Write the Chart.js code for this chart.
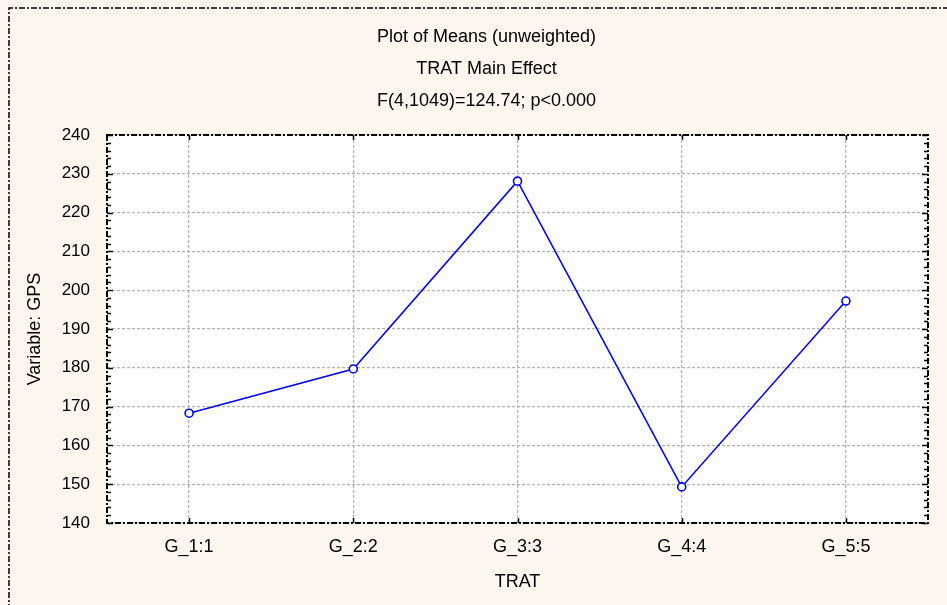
<!DOCTYPE html>
<html>
<head>
<meta charset="utf-8">
<script src="https://cdn.jsdelivr.net/npm/chart.js@4/dist/chart.umd.min.js"></script>
<style>
  html, body { margin: 0; padding: 0; background: #fdf6ef; }
  #chart { display: block; }
</style>
</head>
<body>
<canvas id="chart" width="947" height="605"></canvas>
<script>
const titleLines = ['Plot of Means (unweighted)', 'TRAT Main Effect', 'F(4,1049)=124.74; p<0.000'];
const categories = ['G_1:1', 'G_2:2', 'G_3:3', 'G_4:4', 'G_5:5'];
const means = [168.3, 179.7, 228.1, 149.3, 197.2];
const yTicks = [140, 150, 160, 170, 180, 190, 200, 210, 220, 230, 240];

const FONT = 'Liberation Sans, Arial, sans-serif';

// frame, headings and the little inward tick marks
const decorations = {
    id: 'decorations',
    beforeDraw(chart) {
        const ctx = chart.ctx;
        const a = chart.chartArea;
        ctx.save();
        ctx.fillStyle = '#fdf6ef';
        ctx.fillRect(0, 0, chart.width, chart.height);
        ctx.fillStyle = '#ffffff';
        ctx.fillRect(a.left, a.top, a.right - a.left, a.bottom - a.top);
        ctx.restore();
    },
    afterDraw(chart) {
        const ctx = chart.ctx;
        const a = chart.chartArea;
        const y = chart.scales.y;
        const x = chart.scales.x;
        ctx.save();

        // outer frame (cut off at right and bottom)
        ctx.strokeStyle = '#000';
        ctx.lineWidth = 1.5;
        ctx.setLineDash([6, 2, 2, 2]);
        ctx.beginPath();
        ctx.moveTo(9, chart.height + 5);
        ctx.lineTo(9, 8);
        ctx.lineTo(chart.width + 5, 8);
        ctx.stroke();

        // plot frame
        ctx.lineWidth = 2;
        ctx.strokeRect(a.left, a.top, a.right - a.left, a.bottom - a.top);
        ctx.setLineDash([]);

        // minor / major ticks on left and right
        ctx.lineWidth = 1.5;
        ctx.beginPath();
        for (let v = yTicks[0]; v <= yTicks[yTicks.length - 1]; v += 2) {
            const py = Math.round(y.getPixelForValue(v)) + 0.5;
            const len = (v % 10 === 0) ? 6 : 4;
            ctx.moveTo(a.left, py); ctx.lineTo(a.left + len, py);
            ctx.moveTo(a.right, py); ctx.lineTo(a.right - len, py);
        }
        categories.forEach((c, i) => {
            const px = Math.round(x.getPixelForValue(i)) + 0.5;
            ctx.moveTo(px, a.bottom); ctx.lineTo(px, a.bottom - 5);
            ctx.moveTo(px, a.top); ctx.lineTo(px, a.top + 5);
        });
        ctx.stroke();

        // headings
        ctx.fillStyle = '#000';
        ctx.font = '18px ' + FONT;
        ctx.textAlign = 'center';
        ctx.textBaseline = 'middle';
        titleLines.forEach((t, i) => ctx.fillText(t, 486.5, 37 + i * 32));
        ctx.restore();
    }
};

new Chart(document.getElementById('chart'), {
    type: 'line',
    data: {
        labels: categories,
        datasets: [{
            data: means,
            borderColor: '#0000ff',
            borderWidth: 1.5,
            pointRadius: 4,
            pointBorderWidth: 1.6,
            pointBackgroundColor: '#ffffff',
            pointBorderColor: '#0000ff',
            tension: 0
        }]
    },
    options: {
        responsive: false,
        animation: false,
        layout: { padding: { top: 135, right: 19, bottom: 0, left: 0 } },
        plugins: {
            legend: { display: false },
            tooltip: { enabled: false }
        },
        scales: {
            x: {
                offset: true,
                afterFit: function (s) { s.height = 82; },
                grid: {
                    offset: false,
                    color: '#b4b4b4',
                    lineWidth: 1.3,
                    drawTicks: false
                },
                border: { display: false, dash: [3, 2] },
                ticks: {
                    padding: 13,
                    color: '#000',
                    font: { family: FONT, size: 18 }
                },
                title: {
                    display: true,
                    text: 'TRAT',
                    color: '#000',
                    font: { family: FONT, size: 18 },
                    padding: { top: 0, bottom: 12 }
                }
            },
            y: {
                min: yTicks[0],
                max: yTicks[yTicks.length - 1],
                afterFit: function (s) { s.width = 107; },
                afterBuildTicks: function (s) { s.ticks = yTicks.map(v => ({ value: v })); },
                grid: {
                    color: '#b4b4b4',
                    lineWidth: 1.3,
                    drawTicks: false
                },
                border: { display: false, dash: [3, 2] },
                ticks: {
                    padding: 17,
                    color: '#000',
                    font: { family: FONT, size: 17 }
                },
                title: {
                    display: true,
                    text: 'Variable: GPS',
                    color: '#000',
                    font: { family: FONT, size: 18 },
                    padding: { top: 24, bottom: 0 }
                }
            }
        }
    },
    plugins: [decorations]
});
</script>
</body>
</html>
